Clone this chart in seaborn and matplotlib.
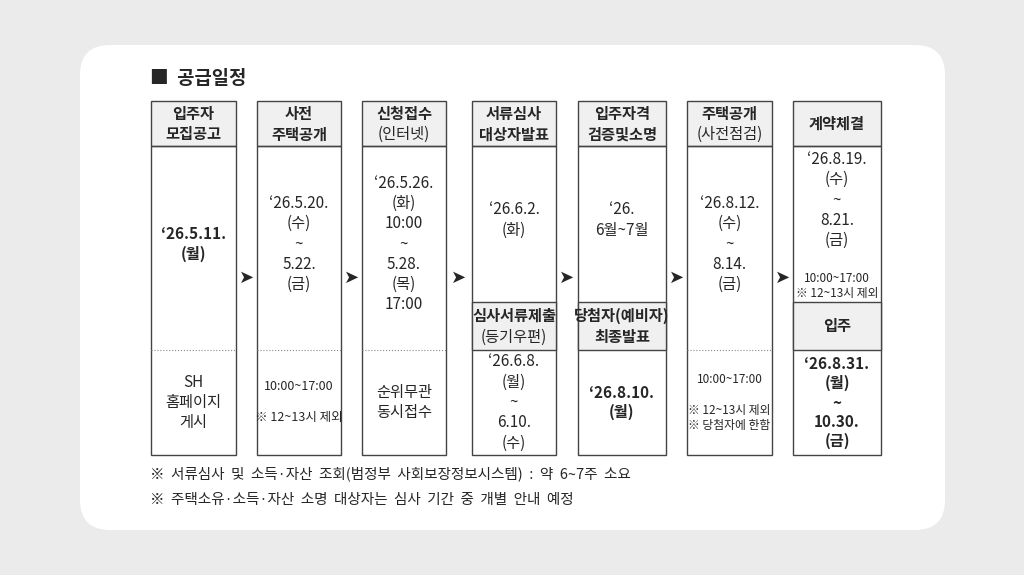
import matplotlib
matplotlib.use("Agg")
import matplotlib.pyplot as plt
import seaborn as sns
from matplotlib.patches import Rectangle, FancyBboxPatch

sns.set_style("white")
plt.rcParams['font.family'] = ['Noto Sans CJK KR', 'DejaVu Sans']

title = "■  공급일정"
header_l1 = ["입주자", "사전", "신청접수", "서류심사", "입주자격", "주택공개", "계약체결"]
header_l2 = ["모집공고", "주택공개", "(인터넷)", "대상자발표", "검증및소명", "(사전점검)", ""]
header_l2_bold = [True, True, False, True, True, False, False]
main_texts = ["‘26.5.11.\n(월)", "‘26.5.20.\n(수)\n~\n5.22.\n(금)",
              "‘26.5.26.\n(화)\n10:00\n~\n5.28.\n(목)\n17:00", "‘26.6.2.\n(화)",
              "‘26.\n6월~7월", "‘26.8.12.\n(수)\n~\n8.14.\n(금)", "‘26.8.19.\n(수)\n~\n8.21.\n(금)"]
main_bold = [True, False, False, False, False, False, False]
sub_l1 = {3: "심사서류제출", 4: "당첨자(예비자)", 6: "입주"}
sub_l2 = {3: "(등기우편)", 4: "최종발표", 6: ""}
sub_l2_bold = {3: False, 4: True, 6: True}
bottom_texts = ["SH\n홈페이지\n게시", "10:00~17:00\n\n※ 12~13시 제외", "순위무관\n동시접수",
                "‘26.6.8.\n(월)\n~\n6.10.\n(수)", "‘26.8.10.\n(월)",
                "10:00~17:00\n\n※ 12~13시 제외\n※ 당첨자에 한함", "‘26.8.31.\n(월)\n~\n10.30.\n(금)"]
bottom_bold = [False, False, False, False, True, False, True]
bottom_size = [11, 9, 11, 11, 11, 8.5, 11]
notes = ["※  서류심사  및  소득·자산  조회(범정부  사회보장정보시스템)  :  약  6~7주  소요",
         "※  주택소유·소득·자산  소명  대상자는  심사  기간  중  개별  안내  예정"]

col_x = [(151, 236), (257, 341), (362, 446), (472, 556), (578, 666), (687, 772), (793, 881)]
top, hb, mid, sub, bot = 101, 146, 302, 350, 455

fig = plt.figure(figsize=(10.24, 5.75), dpi=100)
fig.patch.set_facecolor("#ebebeb")
ax = fig.add_axes([0, 0, 1, 1])
ax.set_xlim(0, 1024); ax.set_ylim(575, 0); ax.axis("off")
ax.add_patch(FancyBboxPatch((80, 45), 865, 485, boxstyle="round,pad=0,rounding_size=30",
                            fc="white", ec="none"))
ax.text(150, 78, title, fontsize=13.5, fontweight="bold", va="center", ha="left")

hdr = "#f0f0f0"
def two_lines(cx, y0, y1, l1, l2, b2):
    if l2:
        ax.text(cx, (y0 + y1) / 2 - 10, l1, ha="center", va="center", fontsize=11, fontweight="bold")
        ax.text(cx, (y0 + y1) / 2 + 11, l2, ha="center", va="center", fontsize=11,
                fontweight="bold" if b2 else "normal")
    else:
        ax.text(cx, (y0 + y1) / 2, l1, ha="center", va="center", fontsize=11, fontweight="bold")

for i, (x0, x1) in enumerate(col_x):
    w = x1 - x0; cx = (x0 + x1) / 2
    ax.add_patch(Rectangle((x0, top), w, hb - top, fc=hdr, ec="#444", lw=1))
    two_lines(cx, top, hb, header_l1[i], header_l2[i], header_l2_bold[i])
    ax.add_patch(Rectangle((x0, hb), w, bot - hb, fc="none", ec="#444", lw=1))
    if i in sub_l1:
        ax.add_patch(Rectangle((x0, mid), w, sub - mid, fc=hdr, ec="#444", lw=1))
        two_lines(cx, mid, sub, sub_l1[i], sub_l2[i], sub_l2_bold[i])
        mc = (hb + mid) / 2 - 4
    else:
        ax.plot([x0, x1], [sub, sub], color="#888", lw=0.8, ls=":")
        mc = (hb + sub) / 2 - 4
    if i == 6:
        ax.text(cx, 200, main_texts[i], ha="center", va="center", fontsize=11, linespacing=1.25)
        ax.text(cx, 286, "10:00~17:00\n※ 12~13시 제외", ha="center", va="center", fontsize=8.5,
                linespacing=1.2)
    else:
        ax.text(cx, mc, main_texts[i], ha="center", va="center", fontsize=11,
                fontweight="bold" if main_bold[i] else "normal", linespacing=1.25)
    ax.text(cx, (sub + bot) / 2, bottom_texts[i], ha="center", va="center", fontsize=bottom_size[i],
            fontweight="bold" if bottom_bold[i] else "normal", linespacing=1.25)
    if i < 6:
        ax.text((x1 + col_x[i + 1][0]) / 2, 278, "➤", ha="center", va="center", fontsize=13,
                family=['DejaVu Sans'])

for k, n in enumerate(notes):
    ax.text(150, 474 + k * 26, n, ha="left", va="center", fontsize=10.5)

fig.savefig("out.png", dpi=100, facecolor=fig.get_facecolor())
